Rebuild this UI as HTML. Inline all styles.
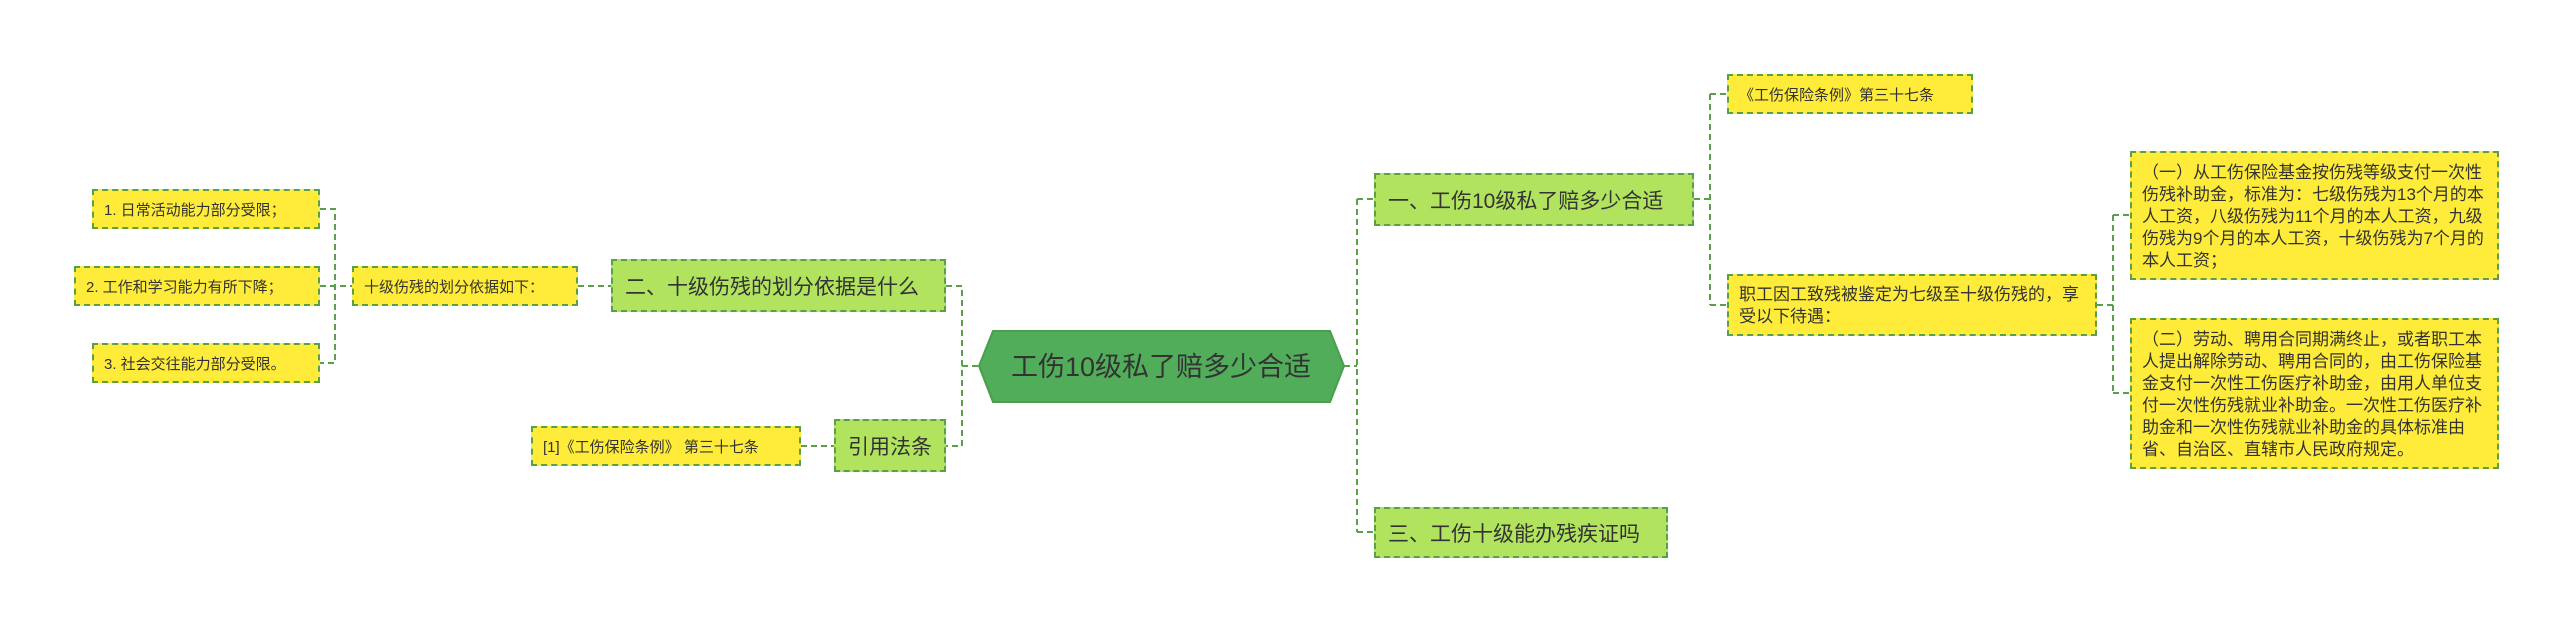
<!DOCTYPE html>
<html><head><meta charset="utf-8"><style>
body{margin:0;width:2560px;height:633px;background:#fff;position:relative;overflow:hidden;font-family:"Liberation Sans","Noto Sans CJK SC",sans-serif;color:#333}
.n{position:absolute;box-sizing:border-box;border:2px dashed #5aa04a;display:flex;align-items:center;white-space:nowrap}
.y{background:#ffec3a;font-size:15px;padding:0 10px}
.g{background:#b1e35e;font-size:21px;padding:0 12px}
.m{position:absolute;white-space:normal;line-height:22px;font-size:17px;padding:6px 2px 6px 10px;align-items:flex-start;word-break:break-all}
svg{position:absolute;left:0;top:0}
</style></head><body>
<svg width="2560" height="633"><g fill="none" stroke="#5aa04a" stroke-width="2" stroke-dasharray="6,4">
<path d="M320 209H335V363H320M320 286H352M578 286H611M946 286H962V446H946M801 446H834M962 366H979"/>
<path d="M1344 366H1357M1357 199V532M1357 199H1374M1357 532H1374M1694 199H1710M1710 94V305M1710 94H1727M1710 305H1727M2097 305H2113M2113 215V393M2113 215H2130M2113 393H2130"/>
</g>
<polygon points="979,366 993,331 1330,331 1344,366 1330,402 993,402" fill="#51ad5a" stroke="#4a9e4e" stroke-width="2"/>
<text x="1161" y="376" font-size="27" text-anchor="middle" fill="#333" font-family="Liberation Sans,Noto Sans CJK SC,sans-serif">工伤10级私了赔多少合适</text>
</svg>
<div class="n y" style="left:92px;top:189px;width:228px;height:40px">1. 日常活动能力部分受限；</div>
<div class="n y" style="left:74px;top:266px;width:246px;height:40px">2. 工作和学习能力有所下降；</div>
<div class="n y" style="left:92px;top:343px;width:228px;height:40px">3. 社会交往能力部分受限。</div>
<div class="n y" style="left:352px;top:266px;width:226px;height:40px">十级伤残的划分依据如下：</div>
<div class="n g" style="left:611px;top:259px;width:335px;height:53px">二、十级伤残的划分依据是什么</div>
<div class="n g" style="left:834px;top:419px;width:112px;height:53px">引用法条</div>
<div class="n y" style="left:531px;top:426px;width:270px;height:40px">[1]《工伤保险条例》 第三十七条</div>
<div class="n g" style="left:1374px;top:173px;width:320px;height:53px">一、工伤10级私了赔多少合适</div>
<div class="n g" style="left:1374px;top:507px;width:294px;height:51px">三、工伤十级能办残疾证吗</div>
<div class="n y" style="left:1727px;top:74px;width:246px;height:40px">《工伤保险条例》第三十七条</div>
<div class="n y m" style="left:1727px;top:274px;width:370px;height:62px;display:block;padding-top:8px">职工因工致残被鉴定为七级至十级伤残的，享受以下待遇：</div>
<div class="n y m" style="left:2130px;top:151px;width:369px;height:129px;display:block;padding-top:9px">（一）从工伤保险基金按伤残等级支付一次性伤残补助金，标准为：七级伤残为13个月的本人工资，八级伤残为11个月的本人工资，九级伤残为9个月的本人工资，十级伤残为7个月的本人工资；</div>
<div class="n y m" style="left:2130px;top:318px;width:369px;height:151px;display:block;padding-top:9px">（二）劳动、聘用合同期满终止，或者职工本人提出解除劳动、聘用合同的，由工伤保险基金支付一次性工伤医疗补助金，由用人单位支付一次性伤残就业补助金。一次性工伤医疗补助金和一次性伤残就业补助金的具体标准由省、自治区、直辖市人民政府规定。</div>
</body></html>
